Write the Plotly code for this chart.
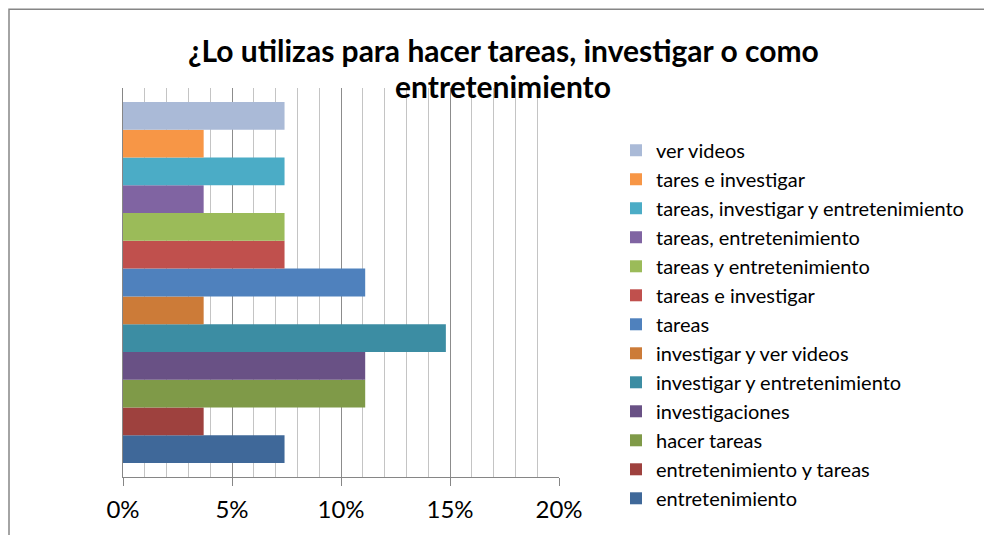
import plotly.graph_objects as go

categories = [
    "entretenimiento",
    "entretenimiento y tareas",
    "hacer tareas",
    "investigaciones",
    "investigar y entretenimiento",
    "investigar y ver videos",
    "tareas",
    "tareas e investigar",
    "tareas y entretenimiento",
    "tareas, entretenimiento",
    "tareas, investigar y entretenimiento",
    "tares e investigar",
    "ver videos",
]
values = [0.0741, 0.0370, 0.1111, 0.1111, 0.1481, 0.0370, 0.1111,
          0.0741, 0.0741, 0.0370, 0.0741, 0.0370, 0.0741]
colors = ["#3F6899", "#9E413E", "#7F9A48", "#695185", "#3C8DA3", "#CC7B38",
          "#4F81BD", "#C0504D", "#9BBB59", "#8064A2", "#4BACC6", "#F79646",
          "#AABAD7"]
title_lines = ["¿Lo utilizas para hacer tareas, investigar o como", "entretenimiento"]
tick_vals = [0, 0.05, 0.10, 0.15, 0.20]
tick_text = ["0%", "5%", "10%", "15%", "20%"]

FONT = "Lato"

fig = go.Figure()
n = len(categories)
for i, (name, v, c) in enumerate(zip(categories, values, colors)):
    fig.add_trace(go.Bar(
        x=[v], y=["g"], name=name, orientation="h",
        marker=dict(color=c, line=dict(width=0)),
        legendrank=n - i,
    ))

W, H = 984, 535
L, R, T, B = 123, 984 - 559, 88, 535 - 488
pw, ph = W - L - R, H - T - B

def px_x(x):
    return (x - L) / pw

def px_y(y):
    return (H - B - y) / ph

fig.update_layout(
    width=W, height=H,
    margin=dict(l=L, r=R, t=T, b=B),
    paper_bgcolor="white", plot_bgcolor="white",
    barmode="group", bargap=1 / 14, bargroupgap=0,
    font=dict(family=FONT, color="#000000"),
    showlegend=True,
    legend=dict(
        traceorder="normal",
        x=px_x(616), xanchor="left",
        y=px_y(132), yanchor="top",
        font=dict(family=FONT, size=20, color="#000000"),
        bgcolor="rgba(0,0,0,0)",
        itemclick=False,
    ),
    xaxis=dict(
        range=[0, 0.20],
        tickvals=tick_vals, ticktext=tick_text,
        ticks="outside", ticklen=8, tickcolor="#868686", tickwidth=1,
        ticklabelstandoff=3,
        showline=True, linecolor="#868686", linewidth=1,
        showgrid=True, gridcolor="#8c8c8c", gridwidth=1,
        minor=dict(dtick=0.01, showgrid=True, gridcolor="#c4c4c4", gridwidth=1, ticks=""),
        tickfont=dict(family=FONT, size=24, color="#000000"),
        zeroline=False, fixedrange=True,
    ),
    yaxis=dict(
        showticklabels=False, showgrid=False, zeroline=False,
        showline=True, linecolor="#868686", linewidth=1,
        fixedrange=True,
    ),
    shapes=[
        dict(type="rect", xref="paper", yref="paper",
             x0=px_x(9), x1=px_x(1100), y0=px_y(7), y1=px_y(700),
             line=dict(color="#868686", width=1.5), fillcolor="rgba(0,0,0,0)",
             layer="below"),
    ],
    annotations=[
        dict(text=f"<b>{title_lines[0]}</b>", xref="paper", yref="paper",
             x=px_x(503), y=px_y(49), xanchor="center", yanchor="middle",
             showarrow=False, font=dict(family=FONT, size=30, color="#000000")),
        dict(text=f"<b>{title_lines[1]}</b>", xref="paper", yref="paper",
             x=px_x(503), y=px_y(86), xanchor="center", yanchor="middle",
             showarrow=False, font=dict(family=FONT, size=30, color="#000000")),
    ],
)

fig.write_html("out.html", config={"displayModeBar": False},
               post_script="document.body.style.margin='0';")
